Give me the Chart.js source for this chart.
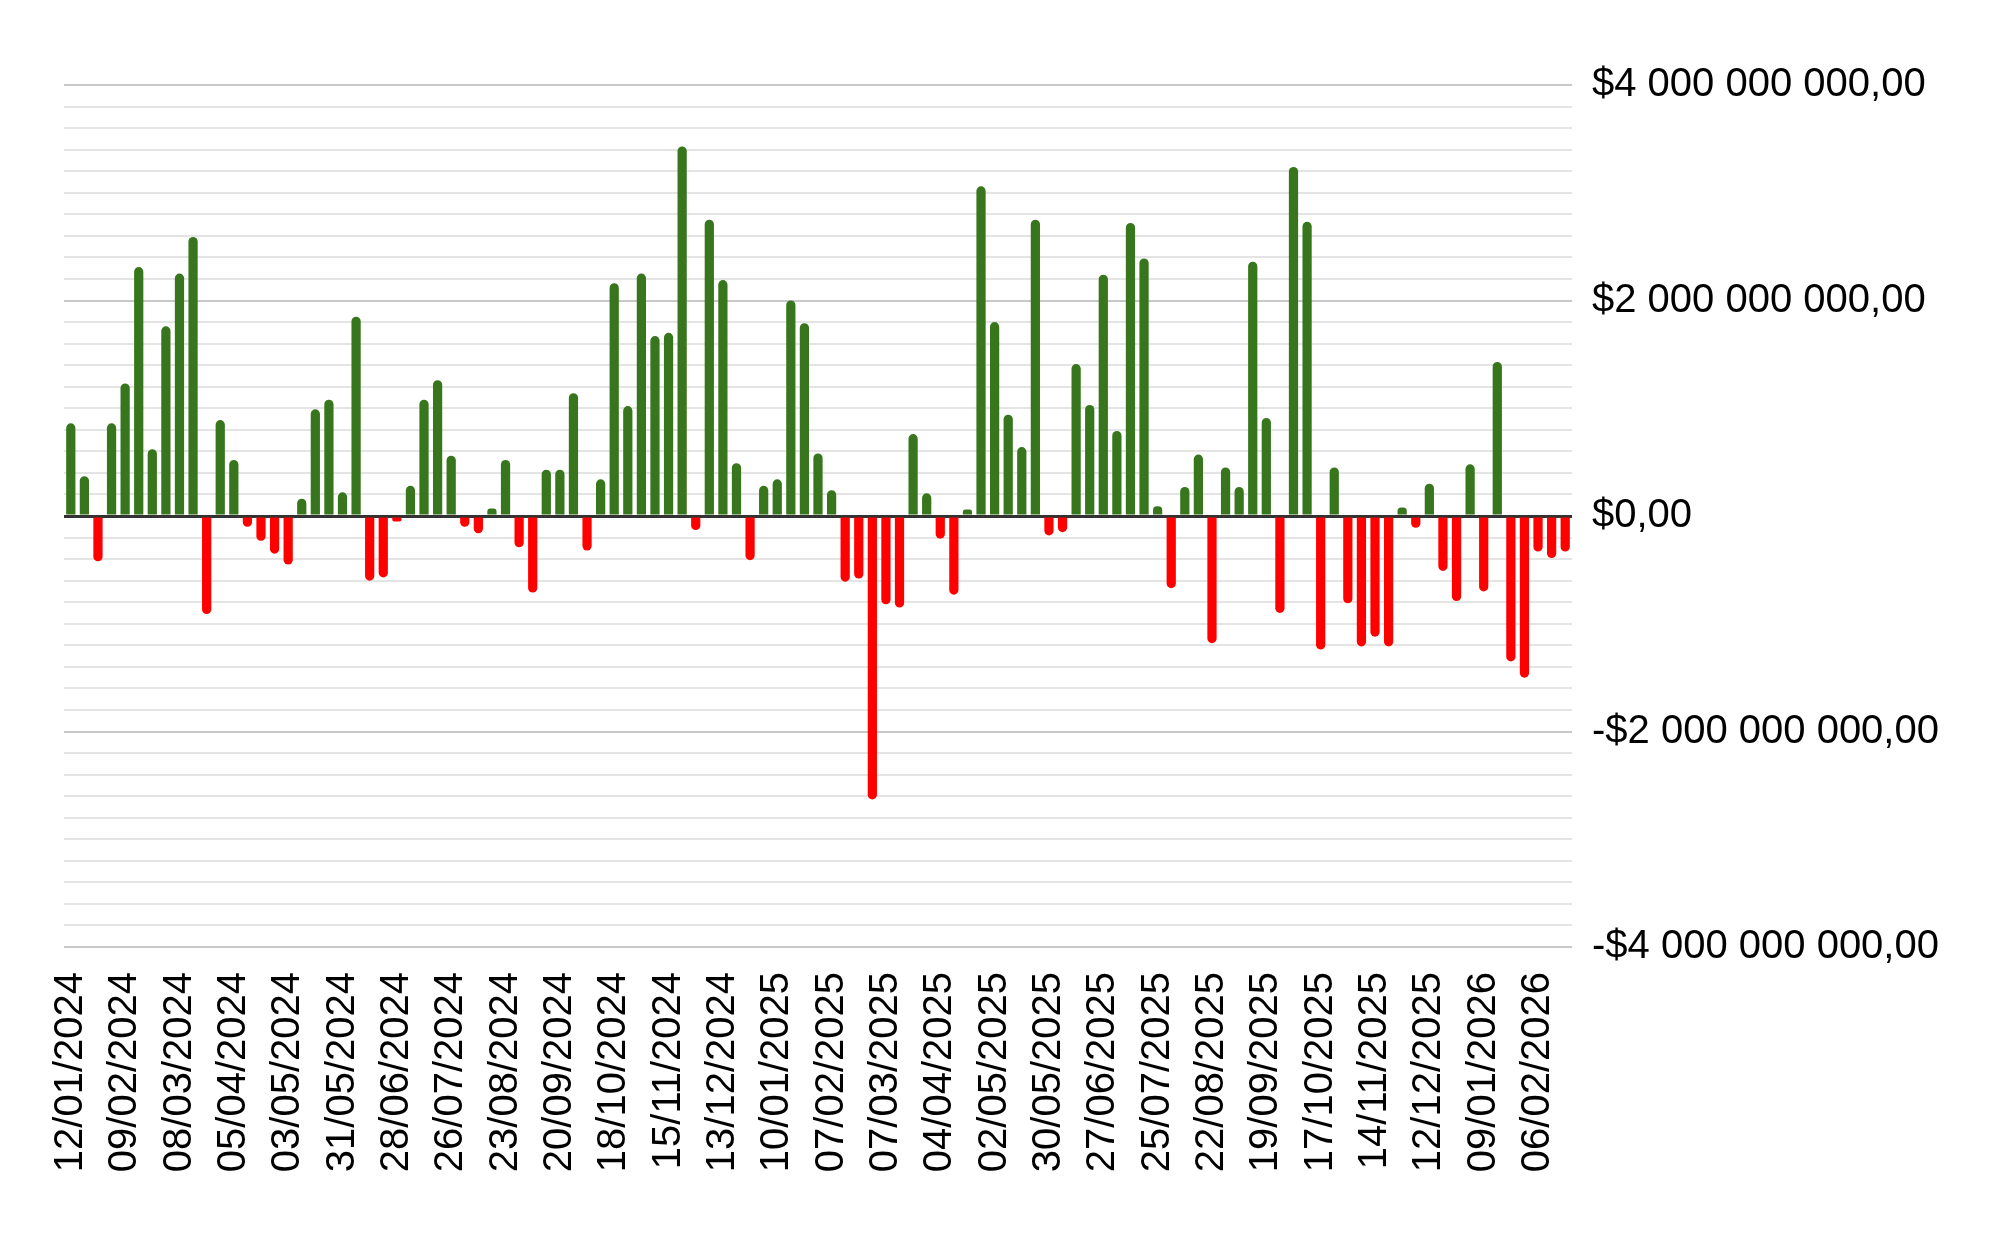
<!DOCTYPE html>
<html>
<head>
<meta charset="utf-8">
<title>Weekly net flow</title>
<script src="https://cdn.jsdelivr.net/npm/chart.js@4.4.1/dist/chart.umd.min.js"></script>
<style>
  html, body { margin: 0; padding: 0; background: #fff; }
  #wrap { width: 2000px; height: 1236px; }
</style>
</head>
<body>
<div id="wrap"><canvas id="flowChart" width="2000" height="1236"></canvas></div>
<script>
// Week-ending dates (one bar per week)
const weeks = [
    '12/01/2024', '19/01/2024', '26/01/2024',
    '02/02/2024', '09/02/2024', '16/02/2024', '23/02/2024',
    '01/03/2024', '08/03/2024', '15/03/2024', '22/03/2024', '29/03/2024',
    '05/04/2024', '12/04/2024', '19/04/2024', '26/04/2024',
    '03/05/2024', '10/05/2024', '17/05/2024', '24/05/2024', '31/05/2024',
    '07/06/2024', '14/06/2024', '21/06/2024', '28/06/2024',
    '05/07/2024', '12/07/2024', '19/07/2024', '26/07/2024',
    '02/08/2024', '09/08/2024', '16/08/2024', '23/08/2024', '30/08/2024',
    '06/09/2024', '13/09/2024', '20/09/2024', '27/09/2024',
    '04/10/2024', '11/10/2024', '18/10/2024', '25/10/2024',
    '01/11/2024', '08/11/2024', '15/11/2024', '22/11/2024', '29/11/2024',
    '06/12/2024', '13/12/2024', '20/12/2024', '27/12/2024',
    '03/01/2025', '10/01/2025', '17/01/2025', '24/01/2025', '31/01/2025',
    '07/02/2025', '14/02/2025', '21/02/2025', '28/02/2025',
    '07/03/2025', '14/03/2025', '21/03/2025', '28/03/2025',
    '04/04/2025', '11/04/2025', '18/04/2025', '25/04/2025',
    '02/05/2025', '09/05/2025', '16/05/2025', '23/05/2025', '30/05/2025',
    '06/06/2025', '13/06/2025', '20/06/2025', '27/06/2025',
    '04/07/2025', '11/07/2025', '18/07/2025', '25/07/2025',
    '01/08/2025', '08/08/2025', '15/08/2025', '22/08/2025', '29/08/2025',
    '05/09/2025', '12/09/2025', '19/09/2025', '26/09/2025',
    '03/10/2025', '10/10/2025', '17/10/2025', '24/10/2025', '31/10/2025',
    '07/11/2025', '14/11/2025', '21/11/2025', '28/11/2025',
    '05/12/2025', '12/12/2025', '19/12/2025', '26/12/2025',
    '02/01/2026', '09/01/2026', '16/01/2026', '23/01/2026', '30/01/2026',
    '06/02/2026', '13/02/2026', '20/02/2026'
];

// Net flow per week, in billions of dollars
const netFlowBn = [
    0.86, 0.37, -0.42, 0.86, 1.23, 2.31, 0.62, 1.76, 2.25, 2.59,
    -0.91, 0.89, 0.52, -0.10, -0.23, -0.35, -0.45, 0.16, 0.99, 1.08,
    0.22, 1.85, -0.60, -0.57, -0.05, 0.28, 1.08, 1.26, 0.56, -0.10,
    -0.16, 0.07, 0.52, -0.29, -0.71, 0.43, 0.43, 1.14, -0.32, 0.34,
    2.16, 1.02, 2.25, 1.67, 1.70, 3.43, -0.13, 2.75, 2.19, 0.49,
    -0.41, 0.28, 0.34, 2.00, 1.79, 0.58, 0.24, -0.61, -0.58, -2.63,
    -0.82, -0.85, 0.76, 0.21, -0.21, -0.73, 0.06, 3.06, 1.80, 0.94,
    0.64, 2.75, -0.18, -0.15, 1.41, 1.03, 2.24, 0.79, 2.72, 2.39,
    0.09, -0.67, 0.27, 0.57, -1.18, 0.45, 0.27, 2.36, 0.91, -0.90,
    3.24, 2.73, -1.24, 0.45, -0.81, -1.21, -1.12, -1.21, 0.08, -0.11,
    0.30, -0.51, -0.79, 0.48, -0.70, 1.43, -1.35, -1.50, -0.33, -0.39,
    -0.33
];

// Y axis range and steps, in dollars
const yMin = -4000000000;
const yMax = 4000000000;
const yMinorStep = 200000000;
const yMajorStep = 2000000000;
const labelEvery = 4; // one date label every 4 weeks

const GREEN = '#38761d';
const RED = '#ff0000';

function formatDollars(value) {
    const sign = value < 0 ? '-' : '';
    const whole = Math.round(Math.abs(value)).toString().replace(/\B(?=(\d{3})+(?!\d))/g, ' ');
    return sign + '$' + whole + ',00';
}

function isMajor(value) {
    return Math.round(value / yMinorStep) % Math.round(yMajorStep / yMinorStep) === 0;
}

const values = netFlowBn.map(v => v * 1e9);

Chart.defaults.font.family = '"Liberation Sans", Arial, sans-serif';
Chart.defaults.color = '#000';

const ctx = document.getElementById('flowChart').getContext('2d');
new Chart(ctx, {
    type: 'bar',
    data: {
        labels: weeks,
        datasets: [{
            data: values,
            backgroundColor: values.map(v => v < 0 ? RED : GREEN),
            borderWidth: 0,
            borderRadius: 5,
            barPercentage: 0.68,
            categoryPercentage: 1
        }]
    },
    options: {
        responsive: false,
        animation: false,
        layout: { padding: { left: 64, top: 85, right: 0, bottom: 0 } },
        plugins: {
            legend: { display: false },
            tooltip: { enabled: false }
        },
        scales: {
            x: {
                grid: { display: false, drawTicks: false },
                border: { display: false },
                ticks: {
                    autoSkip: false,
                    minRotation: 90,
                    maxRotation: 90,
                    padding: 25,
                    font: { size: 40 },
                    callback: function (value, index) {
                        return index % labelEvery === 0 ? this.getLabelForValue(value) : '';
                    }
                },
                afterFit: scale => { scale.height = 289; }
            },
            y: {
                position: 'right',
                min: yMin,
                max: yMax,
                border: { display: false },
                grid: {
                    drawTicks: false,
                    color: c => c.tick.value === 0 ? '#333333' : (isMajor(c.tick.value) ? '#c8c8c8' : '#e4e4e4'),
                    lineWidth: c => c.tick.value === 0 ? 3 : 2
                },
                ticks: {
                    stepSize: yMinorStep,
                    autoSkip: false,
                    padding: 20,
                    font: { size: 40 },
                    callback: value => isMajor(value) ? formatDollars(value) : ''
                },
                afterFit: scale => { scale.width = 428; }
            }
        }
    }
});
</script>
</body>
</html>
